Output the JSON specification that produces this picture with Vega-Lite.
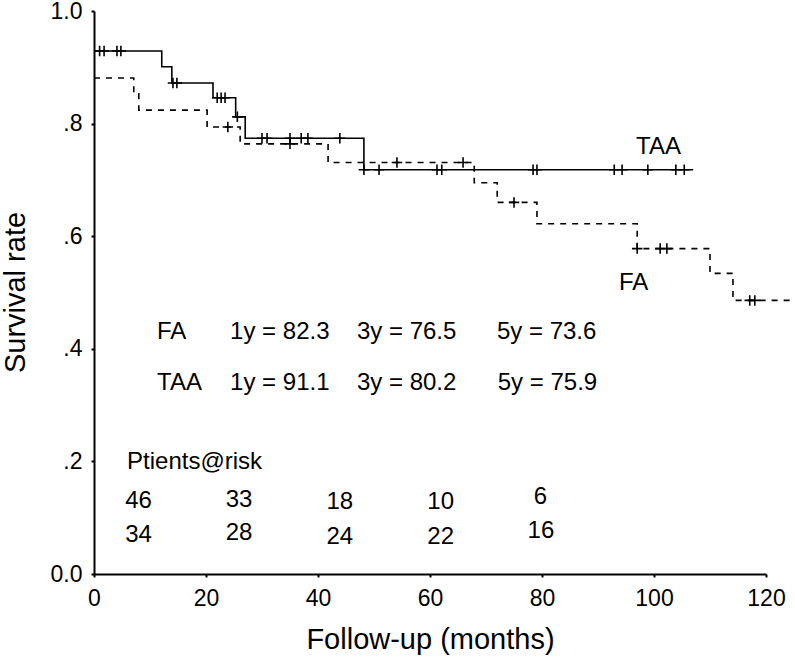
{
  "$schema": "https://vega.github.io/schema/vega-lite/v6.json",
  "width": 672,
  "height": 563,
  "autosize": {"type": "none"},
  "padding": {"left": 94, "top": 11, "right": 29, "bottom": 86},
  "background": "white",
  "config": {
    "font": "Liberation Sans",
    "view": {"stroke": null},
    "axis": {
      "grid": false,
      "domainColor": "#000",
      "domainWidth": 2,
      "tickColor": "#000",
      "tickWidth": 2,
      "tickSize": 3,
      "labelColor": "#000",
      "titleColor": "#000",
      "labelFontSize": 23,
      "titleFontSize": 29,
      "titleFontWeight": "normal",
      "labelFont": "Liberation Sans",
      "titleFont": "Liberation Sans"
    }
  },
  "datasets": {
    "curves": [
      {"group": "TAA", "month": 0, "surv": 0.929},
      {"group": "TAA", "month": 12.1, "surv": 0.901},
      {"group": "TAA", "month": 13.9, "surv": 0.872},
      {"group": "TAA", "month": 21.25, "surv": 0.846},
      {"group": "TAA", "month": 25.3, "surv": 0.812},
      {"group": "TAA", "month": 27.0, "surv": 0.774},
      {"group": "TAA", "month": 48.2, "surv": 0.718},
      {"group": "TAA", "month": 107.0, "surv": 0.718},
      {"group": "FA", "month": 0, "surv": 0.881},
      {"group": "FA", "month": 7.1, "surv": 0.853},
      {"group": "FA", "month": 8.0, "surv": 0.824},
      {"group": "FA", "month": 20.2, "surv": 0.794},
      {"group": "FA", "month": 26.1, "surv": 0.764},
      {"group": "FA", "month": 41.8, "surv": 0.731},
      {"group": "FA", "month": 67.9, "surv": 0.695},
      {"group": "FA", "month": 72.0, "surv": 0.660},
      {"group": "FA", "month": 79.1, "surv": 0.622},
      {"group": "FA", "month": 97.0, "surv": 0.578},
      {"group": "FA", "month": 110.0, "surv": 0.534},
      {"group": "FA", "month": 114.1, "surv": 0.486},
      {"group": "FA", "month": 125.2, "surv": 0.486}
    ],
    "censors": [
      {"group": "TAA", "month": 1.0, "surv": 0.929},
      {"group": "TAA", "month": 1.8, "surv": 0.929},
      {"group": "TAA", "month": 4.1, "surv": 0.929},
      {"group": "TAA", "month": 4.8, "surv": 0.929},
      {"group": "TAA", "month": 14.1, "surv": 0.872},
      {"group": "TAA", "month": 14.8, "surv": 0.872},
      {"group": "TAA", "month": 22.0, "surv": 0.846},
      {"group": "TAA", "month": 22.7, "surv": 0.846},
      {"group": "TAA", "month": 23.4, "surv": 0.846},
      {"group": "TAA", "month": 25.6, "surv": 0.812},
      {"group": "TAA", "month": 30.0, "surv": 0.774},
      {"group": "TAA", "month": 30.9, "surv": 0.774},
      {"group": "TAA", "month": 35.0, "surv": 0.774},
      {"group": "TAA", "month": 37.0, "surv": 0.774},
      {"group": "TAA", "month": 38.2, "surv": 0.774},
      {"group": "TAA", "month": 43.9, "surv": 0.774},
      {"group": "TAA", "month": 48.2, "surv": 0.718},
      {"group": "TAA", "month": 50.9, "surv": 0.718},
      {"group": "TAA", "month": 61.25, "surv": 0.718},
      {"group": "TAA", "month": 62.1, "surv": 0.718},
      {"group": "TAA", "month": 78.4, "surv": 0.718},
      {"group": "TAA", "month": 79.1, "surv": 0.718},
      {"group": "TAA", "month": 92.9, "surv": 0.718},
      {"group": "TAA", "month": 94.3, "surv": 0.718},
      {"group": "TAA", "month": 98.9, "surv": 0.718},
      {"group": "TAA", "month": 103.9, "surv": 0.718},
      {"group": "TAA", "month": 105.4, "surv": 0.718},
      {"group": "FA", "month": 23.9, "surv": 0.794},
      {"group": "FA", "month": 35.0, "surv": 0.764},
      {"group": "FA", "month": 54.1, "surv": 0.731},
      {"group": "FA", "month": 65.9, "surv": 0.731},
      {"group": "FA", "month": 75.0, "surv": 0.660},
      {"group": "FA", "month": 97.0, "surv": 0.578},
      {"group": "FA", "month": 101.1, "surv": 0.578},
      {"group": "FA", "month": 102.3, "surv": 0.578},
      {"group": "FA", "month": 117.1, "surv": 0.486},
      {"group": "FA", "month": 118.0, "surv": 0.486}
    ],
    "labels": [
      {"t": "TAA", "month": 96.8, "surv": 0.759},
      {"t": "FA", "month": 93.75, "surv": 0.516},
      {"t": "FA", "month": 11.25, "surv": 0.429},
      {"t": "1y = 82.3", "month": 24.3, "surv": 0.429},
      {"t": "3y = 76.5", "month": 46.96, "surv": 0.429},
      {"t": "5y = 73.6", "month": 71.96, "surv": 0.429},
      {"t": "TAA", "month": 11.25, "surv": 0.34},
      {"t": "1y = 91.1", "month": 24.3, "surv": 0.34},
      {"t": "3y = 80.2", "month": 46.96, "surv": 0.34},
      {"t": "5y = 75.9", "month": 72.1, "surv": 0.34},
      {"t": "Ptients@risk", "month": 5.9, "surv": 0.199}
    ],
    "risk": [
      {"t": "46", "month": 7.95, "surv": 0.13},
      {"t": "33", "month": 25.9, "surv": 0.132},
      {"t": "18", "month": 43.9, "surv": 0.127},
      {"t": "10", "month": 61.9, "surv": 0.127},
      {"t": "6", "month": 79.7, "surv": 0.136},
      {"t": "34", "month": 7.95, "surv": 0.07},
      {"t": "28", "month": 25.9, "surv": 0.073},
      {"t": "24", "month": 43.9, "surv": 0.066},
      {"t": "22", "month": 61.9, "surv": 0.066},
      {"t": "16", "month": 79.8, "surv": 0.076}
    ]
  },
  "layer": [
    {
      "mark": {"type": "rule", "strokeDash": [5, 9], "strokeWidth": 1.5, "color": "#000"},
      "encoding": {
        "x": {"datum": 0, "type": "quantitative"},
        "x2": {"datum": 120},
        "y": {"datum": 1, "type": "quantitative"}
      }
    },
    {
      "mark": {"type": "rule", "strokeDash": [4, 10], "strokeWidth": 1.5, "color": "#000"},
      "encoding": {
        "x": {"datum": 120, "type": "quantitative"},
        "y": {"datum": 0, "type": "quantitative"},
        "y2": {"datum": 1}
      }
    },
    {
      "data": {"name": "curves"},
      "mark": {"type": "line", "interpolate": "step-after", "strokeWidth": 1.6, "color": "#000"},
      "encoding": {
        "x": {
          "field": "month",
          "type": "quantitative",
          "scale": {"domain": [0, 120], "nice": false, "zero": false},
          "axis": {
            "title": "Follow-up (months)",
            "values": [0, 20, 40, 60, 80, 100, 120],
            "labelPadding": 10,
            "labelFlush": false,
            "labelOverlap": false,
            "titleY": 74,
            "titleBaseline": "alphabetic"
          }
        },
        "y": {
          "field": "surv",
          "type": "quantitative",
          "scale": {"domain": [0, 1], "nice": false},
          "axis": {
            "title": "Survival rate",
            "values": [0, 0.2, 0.4, 0.6, 0.8, 1],
            "labelExpr": "datum.value === 0 ? '0.0' : datum.value === 1 ? '1.0' : '.' + format(datum.value * 10, 'd')",
            "labelPadding": 9,
            "labelFlush": false,
            "labelOverlap": false,
            "titleAngle": -90,
            "titleX": -70,
            "titleY": 281,
            "titleBaseline": "alphabetic"
          }
        },
        "detail": {"field": "group"},
        "strokeDash": {
          "field": "group",
          "type": "nominal",
          "scale": {"domain": ["TAA", "FA"], "range": [[1, 0], [6, 6]]},
          "legend": null
        }
      }
    },
    {
      "data": {"name": "censors"},
      "mark": {"type": "point", "shape": "M0,-1V1M-1,0H1", "filled": false, "size": 110, "strokeWidth": 1.6, "color": "#000", "opacity": 1},
      "encoding": {
        "x": {"field": "month", "type": "quantitative"},
        "y": {"field": "surv", "type": "quantitative"}
      }
    },
    {
      "data": {"name": "labels"},
      "mark": {"type": "text", "align": "left", "baseline": "middle", "fontSize": 24, "color": "#000", "font": "Liberation Sans"},
      "encoding": {
        "x": {"field": "month", "type": "quantitative"},
        "y": {"field": "surv", "type": "quantitative"},
        "text": {"field": "t"}
      }
    },
    {
      "data": {"name": "risk"},
      "mark": {"type": "text", "align": "center", "baseline": "middle", "fontSize": 24, "color": "#000", "font": "Liberation Sans"},
      "encoding": {
        "x": {"field": "month", "type": "quantitative"},
        "y": {"field": "surv", "type": "quantitative"},
        "text": {"field": "t"}
      }
    }
  ]
}
